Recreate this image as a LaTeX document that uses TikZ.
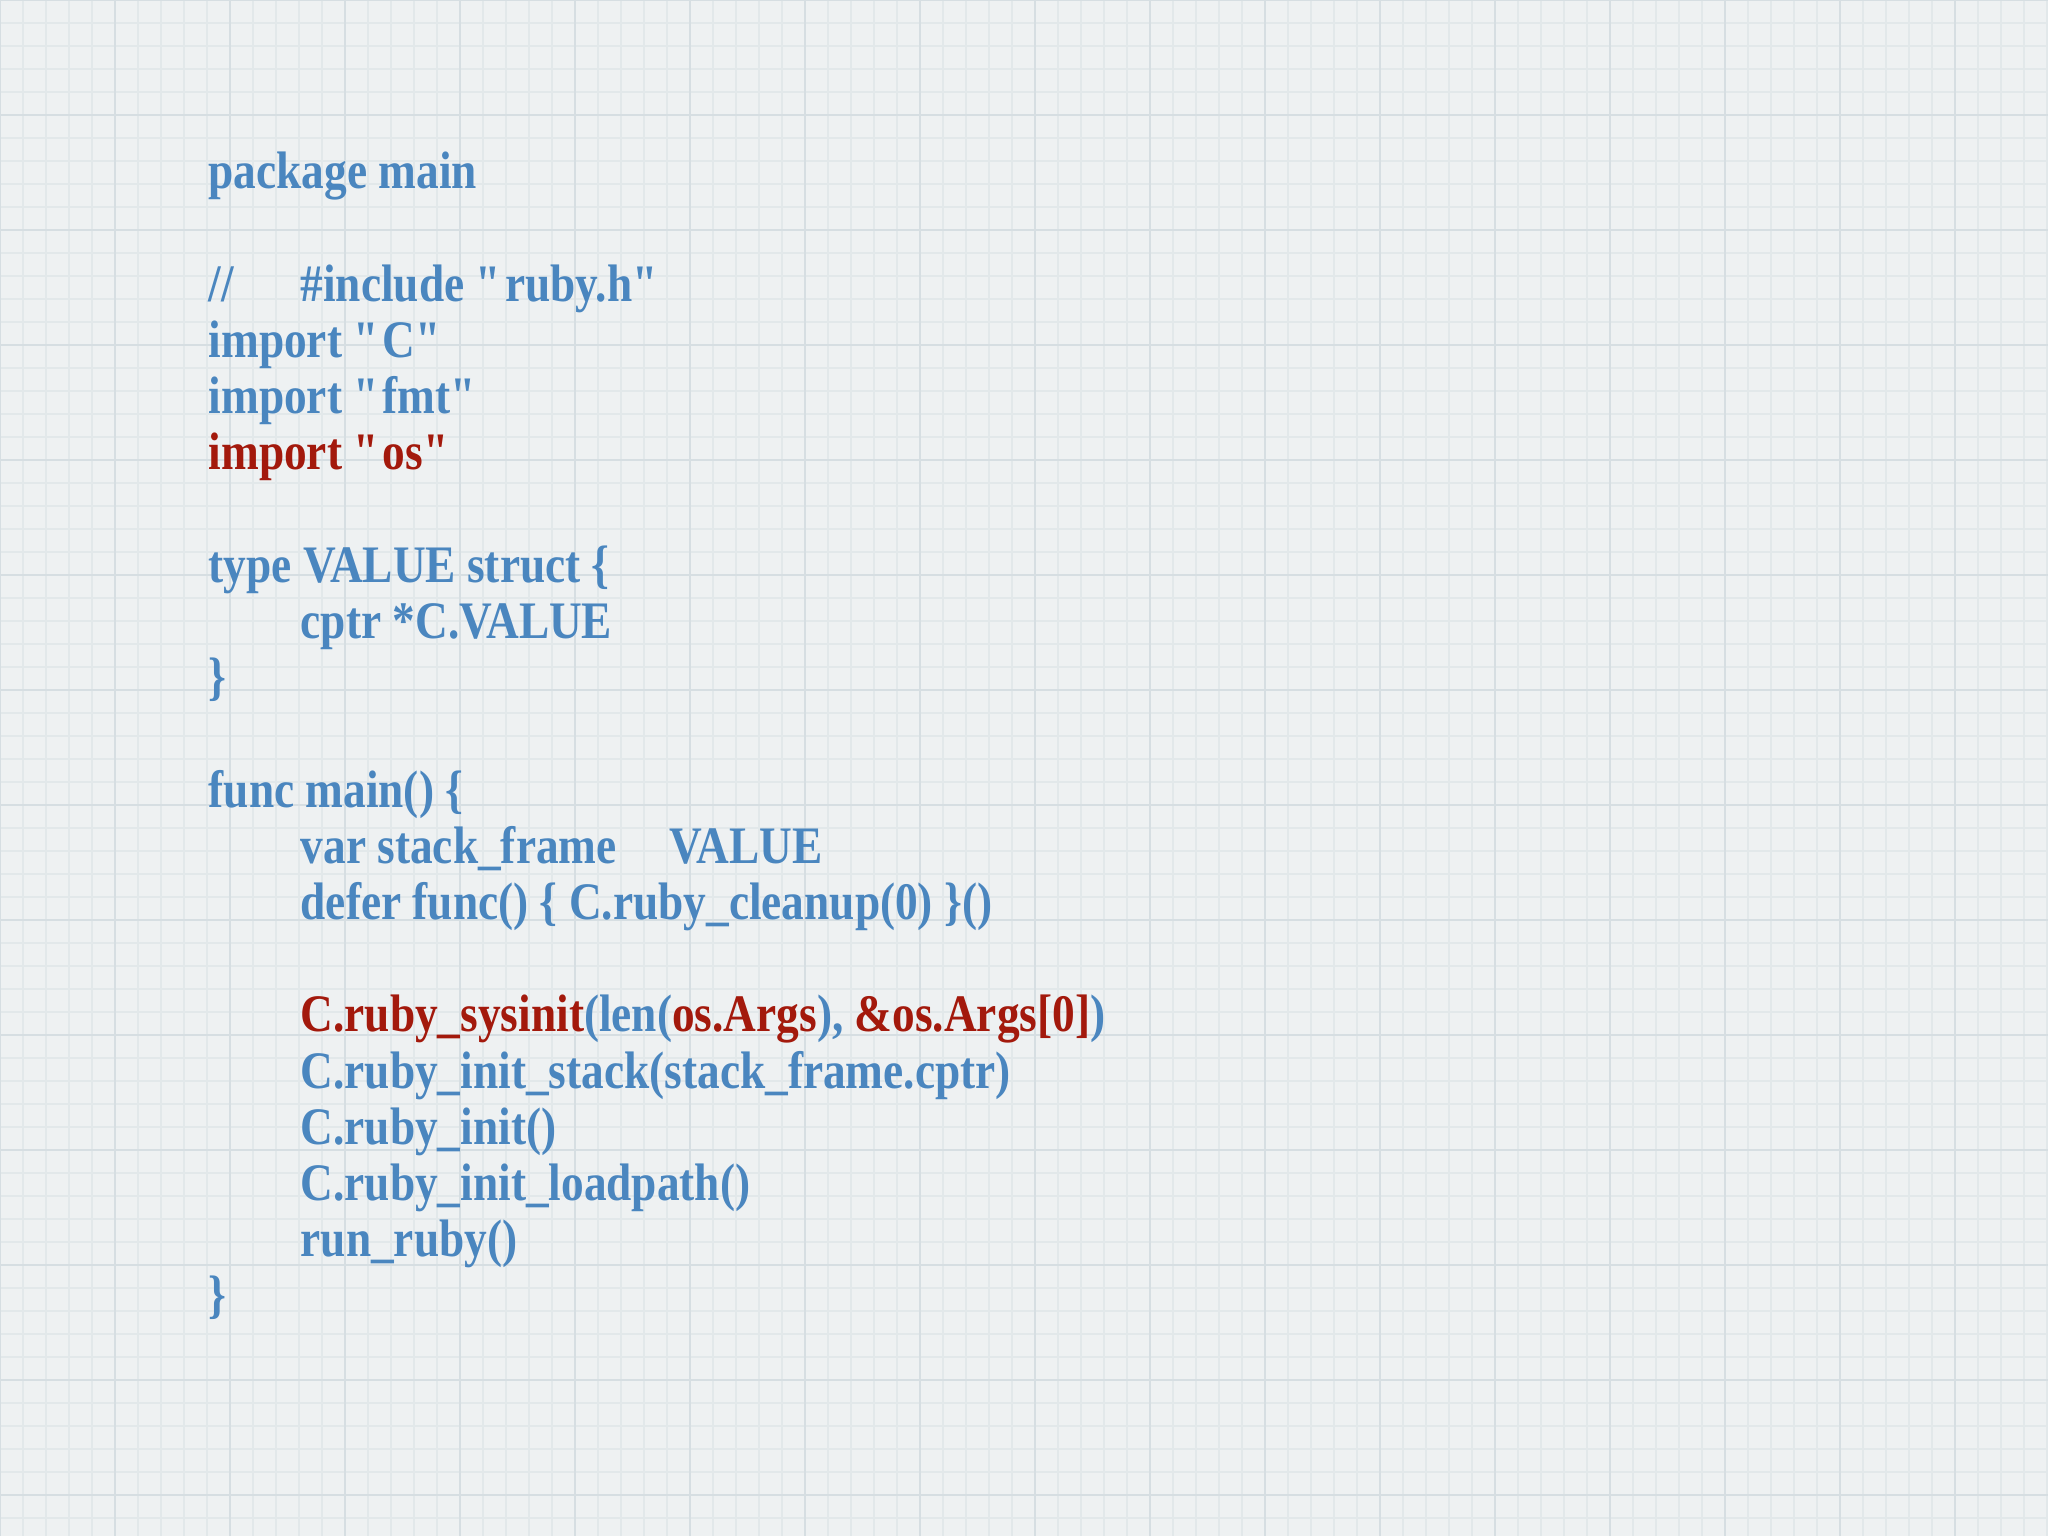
\documentclass[tikz,border=0pt]{standalone}
\usepackage{fontspec}
\setmainfont[FakeStretch=0.86]{Liberation Serif}
\definecolor{bg}{HTML}{EEF1F2}
\definecolor{gridc}{HTML}{E2E8EA}
\definecolor{gridd}{HTML}{D6DEE2}
\definecolor{codeb}{HTML}{4A86BF}
\definecolor{coder}{HTML}{A3190C}
\newcommand{\qq}{\textquotedbl}
\begin{document}
\begin{tikzpicture}[code/.style={anchor=base west,inner sep=0pt,text=codeb,font=\fontsize{15}{18}\selectfont\bfseries}]
\useasboundingbox (0,-15.36) rectangle (20.48,0);
\fill[bg] (0,-15.36) rectangle (20.48,0);
\draw[gridc,line width=0.4pt,step=0.23] (0,-15.36) grid (20.48,0);
\draw[gridd,line width=0.6pt,step=1.15] (0,-15.36) grid (20.48,0);
\def\L{0.562}
\node[code] (l0) at (2.08,-1.89) {package main};
\node[code] (l2) at (2.08,-1.89-2*\L) {//};
\node[code] (l2b) at (3.00,-1.89-2*\L) {\#include \qq ruby.h\qq};
\node[code] (l3) at (2.08,-1.89-3*\L) {import \qq C\qq};
\node[code] (l4) at (2.08,-1.89-4*\L) {import \qq fmt\qq};
\node[code,text=coder] (l5) at (2.08,-1.89-5*\L) {import \qq os\qq};
\node[code] (l7) at (2.08,-1.89-7*\L) {type VALUE struct \{};
\node[code] (l8) at (3.00,-1.89-8*\L) {cptr *C.VALUE};
\node[code] (l9) at (2.08,-1.89-9*\L) {\}};
\node[code] (l11) at (2.08,-1.89-11*\L) {func main() \{};
\node[code] (l12) at (3.00,-1.89-12*\L) {var stack\_frame};
\node[code] (l12b) at (6.69,-1.89-12*\L) {VALUE};
\node[code] (l13) at (3.00,-1.89-13*\L) {defer func() \{ C.ruby\_cleanup(0) \}()};
\node[code] (l15) at (3.00,-1.89-15*\L) {\textcolor{coder}{C.ruby\_sysinit}(len(\textcolor{coder}{os.Args}), \textcolor{coder}{\&os.Args[0]})};
\node[code] (l16) at (3.00,-1.89-16*\L) {C.ruby\_init\_stack(stack\_frame.cptr)};
\node[code] (l17) at (3.00,-1.89-17*\L) {C.ruby\_init()};
\node[code] (l18) at (3.00,-1.89-18*\L) {C.ruby\_init\_loadpath()};
\node[code] (l19) at (3.00,-1.89-19*\L) {run\_ruby()};
\node[code] (l20) at (2.08,-1.89-20*\L) {\}};
\end{tikzpicture}
\end{document}
